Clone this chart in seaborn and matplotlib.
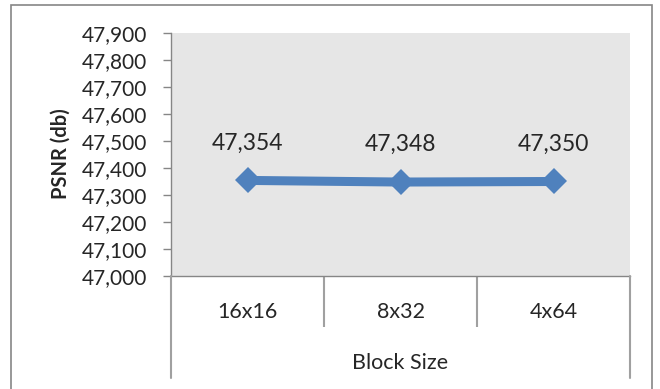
import matplotlib
matplotlib.use("Agg")
import matplotlib.pyplot as plt
import seaborn as sns
import pandas as pd
from matplotlib.patches import Rectangle
from matplotlib.lines import Line2D
from matplotlib.ticker import FuncFormatter, FixedLocator
import matplotlib.transforms as mtransforms

categories = ["16x16", "8x32", "4x64"]
psnr = [47.354, 47.348, 47.350]
y_ticks = [47.0, 47.1, 47.2, 47.3, 47.4, 47.5, 47.6, 47.7, 47.8, 47.9]
x_label = "Block Size"
y_label = "PSNR (db)"

sns.set_theme(style="white")
plt.rcParams["font.family"] = ["Lato", "DejaVu Sans"]

GRID = "#868686"
BLUE = "#4F81BD"

fig = plt.figure(figsize=(6.6, 3.89), dpi=100)
W, H = 660, 389
ax = fig.add_axes([171 / W, 1 - 276 / H, (630 - 171) / W, (276 - 33) / H])
ax.set_facecolor("#E6E6E6")

df = pd.DataFrame({"cat": categories, "val": psnr})
sns.lineplot(data=df, x="cat", y="val", ax=ax, sort=False, color=BLUE,
             linewidth=6.5, marker="D", markersize=13, markeredgewidth=0)

ax.set_xlim(-0.5, len(categories) - 0.5)
ax.set_ylim(y_ticks[0], y_ticks[-1])
ax.yaxis.set_major_locator(FixedLocator(y_ticks))
ax.yaxis.set_major_formatter(FuncFormatter(lambda v, p: f"{v:.3f}".replace(".", ",")))
ax.tick_params(axis="y", length=6, width=1, color=GRID, pad=11, labelsize=15, left=True)

for s in ["top", "right"]:
    ax.spines[s].set_visible(False)
for s in ["left", "bottom"]:
    ax.spines[s].set_color(GRID)
    ax.spines[s].set_linewidth(1)

# category axis
ax.set_xticks(range(len(categories)))
ax.set_xticklabels([])
ax.tick_params(axis="x", length=0)
ax.set_xticks([0.5, 1.5], minor=True)
ax.tick_params(axis="x", which="minor", length=37, width=1.5, color="#A0A0A0", bottom=True)
ax.set_xlabel("")
ax.set_ylabel("")

trans = mtransforms.blended_transform_factory(ax.transData, fig.transFigure)
for xe in [-0.5, len(categories) - 0.5]:
    fig.add_artist(Line2D([xe, xe], [1 - 276 / H, 1 - 378 / H], transform=trans,
                          color="#A0A0A0", linewidth=1.5))
for i, c in enumerate(categories):
    ax.text(i, 1 - 312 / H, c, transform=trans, ha="center", va="center", fontsize=15.5)

fig.text(400 / W, 1 - 363 / H, x_label, ha="center", va="center", fontsize=15.5)
fig.text(61 / W, 1 - 154 / H, y_label, ha="center", va="center", rotation=90,
         fontsize=14.5, fontweight="bold")

for i, v in enumerate(psnr):
    ax.annotate(f"{v:.3f}".replace(".", ","), (i, v), xytext=(0, 27),
                textcoords="offset points", ha="center", va="center", fontsize=16.5)

fig.add_artist(Rectangle((11 / W, -0.01), (652 - 11) / W, 1 - 5 / H + 0.01,
                         transform=fig.transFigure, fill=False, edgecolor=GRID, linewidth=1.2))

fig.savefig("out.png", dpi=100)
